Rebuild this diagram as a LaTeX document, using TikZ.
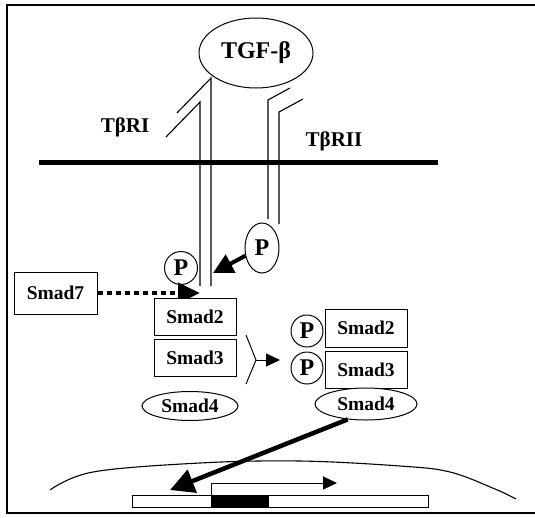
\documentclass[tikz,border=0pt]{standalone}
\usepackage{fontspec}
\setmainfont{Liberation Serif}
\usetikzlibrary{shapes.geometric,arrows.meta}
\tikzset{
  lbl/.style={font=\bfseries\fontsize{19.5}{19.5}\selectfont},
  reclbl/.style={font=\bfseries\fontsize{21}{21}\selectfont},
  smadbox/.style={draw, line width=1pt, fill=white, inner sep=0pt, lbl},
  oval/.style={ellipse, draw, line width=1pt, fill=white, inner sep=0pt, lbl},
  pfont/.style={font=\bfseries\fontsize{24}{24}\selectfont},
  pcirc/.style={circle, draw, line width=1pt, fill=white, inner sep=0pt, minimum size=33pt, pfont},
  rec/.style={line width=1.1pt},
  bigarrow/.style={line width=4.5pt, -{Triangle[length=24pt,width=24pt]}},
}
\begin{document}
\begin{tikzpicture}[x=1pt,y=-1pt]
\useasboundingbox (0,0) rectangle (535,517);
% frame
\draw[line width=1.3pt] (535,5) -- (7,5) -- (7,513) -- (535,513);
% membrane
\draw[line width=5pt] (39,162) -- (438,162);
% receptors
\draw[rec] (166,137) -- (200,102) -- (200,286);
\draw[rec] (177,113) -- (211,78) -- (211,286);
\draw[rec] (290,88) -- (268,100) -- (268,219);
\draw[rec] (303,99) -- (279,112) -- (279,224);
% ligand
\node[oval, minimum width=114pt, minimum height=70pt, font=\bfseries\fontsize{24}{24}\selectfont] (tgf) at (256,53) {TGF-β};
% receptor labels
\node[reclbl] (r1) at (125,127) {TβRI};
\node[reclbl] (r2) at (334,141) {TβRII};
% phosphates near receptor
\node[pcirc] (pL) at (181,268) {P};
\node[oval, minimum width=34pt, minimum height=50pt, pfont] (pR) at (262,248) {P};
\coordinate (tipP) at (213,273);
\draw[line width=4pt, -{Triangle[length=20pt,width=20pt]}] (pR.205) -- (tipP);
% Smad7
\node[smadbox, minimum width=83pt, minimum height=42pt] (s7) at (55.5,293) {Smad7};
\coordinate (tip7) at (200,293);
\draw[line width=4pt, dash pattern=on 5pt off 4pt, -{Triangle[length=22pt,width=20pt]}] (s7.east) -- (tip7);
% left complex
\node[smadbox, minimum width=82pt, minimum height=37pt] (s2L) at (195,316.5) {Smad2};
\node[smadbox, minimum width=82pt, minimum height=37pt] (s3L) at (195,357.5) {Smad3};
\node[oval, minimum width=96pt, minimum height=29pt] (s4L) at (190,406) {Smad4};
% branch arrow
\coordinate (b1) at (246,335);
\coordinate (b2) at (246,384);
\coordinate (bj) at (256,360);
\coordinate (bt) at (280,360);
\draw[line width=1pt] (b1) -- (bj) -- (b2);
\draw[line width=1pt, -{Triangle[length=14pt,width=13pt]}] (bj) -- (bt);
% right complex
\node[smadbox, minimum width=82pt, minimum height=38pt] (s2R) at (366,328) {Smad2};
\node[smadbox, minimum width=82pt, minimum height=37pt] (s3R) at (366,369.5) {Smad3};
\node[pcirc, minimum size=32pt] (p1) at (307,331) {P};
\node[pcirc, minimum size=32pt] (p2) at (307,368) {P};
\node[oval, minimum width=102pt, minimum height=32pt] (s4R) at (366,404) {Smad4};
% nucleus
\draw[line width=1.1pt] plot[smooth, tension=0.6] coordinates {(50,490) (93,472) (200,463) (300,461) (400,466) (450,472) (495,489) (516,499)};
% DNA
\draw[line width=1pt, fill=white] (132,495) rectangle (428,507);
\fill[black] (211,495) rectangle (269,507);
\coordinate (prom) at (211,495);
\coordinate (promT) at (337,483);
\draw[line width=1pt, -{Triangle[length=14pt,width=13pt]}] (prom) -- (211,483) -- (promT);
% big arrow
\coordinate (dnaT) at (170,490);
\draw[bigarrow] (s4R.220) -- (dnaT);
\end{tikzpicture}
\end{document}
